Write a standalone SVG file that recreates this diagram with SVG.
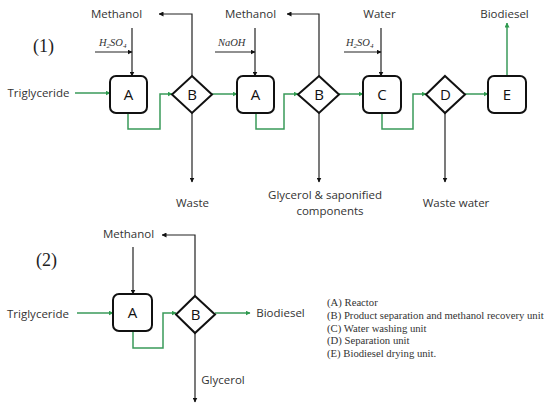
<svg xmlns="http://www.w3.org/2000/svg" width="550" height="409" viewBox="0 0 550 409">
<style>
.lbl{font-family:"Open Sans","Liberation Sans",sans-serif;font-size:11.5px;fill:#333;}
.unit{font-family:"Open Sans","Liberation Sans",sans-serif;font-size:15px;fill:#111;}
.num{font-family:"Liberation Serif",serif;font-size:18px;fill:#222;}
.chem{font-family:"Liberation Serif",serif;font-size:10.5px;font-style:italic;fill:#333;}
.leg{font-family:"Liberation Serif",serif;font-size:10.7px;fill:#333;}
.box{fill:#fff;stroke:#111;stroke-width:2;}
.k{fill:none;stroke:#222;stroke-width:1.2;marker-end:url(#ak);}
.g{fill:none;stroke:#3a9a5a;stroke-width:1.5;marker-end:url(#ag);}
</style>
<defs>
<marker id="ak" viewBox="0 0 10 10" refX="9" refY="5" markerWidth="5" markerHeight="5" orient="auto" markerUnits="userSpaceOnUse"><path d="M0,0L10,5L0,10z" fill="#111"/></marker>
<marker id="ag" viewBox="0 0 10 10" refX="9" refY="5" markerWidth="5" markerHeight="5" orient="auto" markerUnits="userSpaceOnUse"><path d="M0,0L10,5L0,10z" fill="#2e9a4e"/></marker>
</defs>

<text class="num" x="33" y="52">(1)</text>
<text class="num" x="36" y="266">(2)</text>

<g id="connectors">
<path class="g" d="M75,93H110"/>
<path class="k" d="M132,28V76"/>
<path class="k" d="M95,52H132"/>
<path class="g" d="M128,113V129H160V94H172"/>
<path class="k" d="M192,76V14H159"/>
<path class="k" d="M192,113V182"/>
<path class="g" d="M212,94H237"/>
<path class="k" d="M255,28V76"/>
<path class="k" d="M215,52H255"/>
<path class="g" d="M256,113V129H284V94H298"/>
<path class="k" d="M319,76V14H287"/>
<path class="k" d="M319,113V182"/>
<path class="g" d="M339,94H363"/>
<path class="k" d="M381,28V76"/>
<path class="k" d="M344,52H381"/>
<path class="g" d="M382,113V129H413V94H426"/>
<path class="k" d="M445,113V182"/>
<path class="g" d="M465,94H488"/>
<path class="g" d="M507,76V23"/>
<path class="g" d="M77,313H113"/>
<path class="k" d="M133,247V294"/>
<path class="g" d="M133,331V348H163V313H176"/>
<path class="k" d="M195,296V235H162"/>
<path class="k" d="M195,333V402"/>
<path class="g" d="M215,313H250"/>
</g>

<g id="A1"><rect class="box" x="110" y="76" width="37" height="37" rx="6"/><text class="unit" x="128.5" y="100" text-anchor="middle">A</text></g>
<g id="B1"><path class="box" d="M192,76L212,94.5L192,113L172,94.5Z"/><text class="unit" x="192" y="100" text-anchor="middle">B</text></g>
<g id="A2"><rect class="box" x="237" y="76" width="37" height="37" rx="6"/><text class="unit" x="255.5" y="100" text-anchor="middle">A</text></g>
<g id="B2"><path class="box" d="M319,76L339,94.5L319,113L298,94.5Z"/><text class="unit" x="319" y="100" text-anchor="middle">B</text></g>
<g id="C"><rect class="box" x="363" y="76" width="38" height="37" rx="6"/><text class="unit" x="382" y="100" text-anchor="middle">C</text></g>
<g id="D"><path class="box" d="M445,76L465,94.5L445,113L426,94.5Z"/><text class="unit" x="445.5" y="100" text-anchor="middle">D</text></g>
<g id="E"><rect class="box" x="488" y="76" width="38" height="37" rx="6"/><text class="unit" x="507" y="100" text-anchor="middle">E</text></g>

<g id="A3"><rect class="box" x="113" y="294" width="39" height="37" rx="6"/><text class="unit" x="132.5" y="318" text-anchor="middle">A</text></g>
<g id="B3"><path class="box" d="M195,296L215,314.5L195,333L176,314.5Z"/><text class="unit" x="195.5" y="320" text-anchor="middle">B</text></g>

<g id="labels">
<text class="lbl" x="116.5" y="18" text-anchor="middle">Methanol</text>
<text class="lbl" x="250.5" y="18" text-anchor="middle">Methanol</text>
<text class="lbl" x="379.5" y="18" text-anchor="middle">Water</text>
<text class="lbl" x="504.5" y="18" text-anchor="middle">Biodiesel</text>
<text class="lbl" x="38.5" y="97" text-anchor="middle">Triglyceride</text>
<text class="lbl" x="192.5" y="207" text-anchor="middle">Waste</text>
<text class="lbl" x="325" y="199" text-anchor="middle">Glycerol &amp; saponified</text>
<text class="lbl" x="330" y="215" text-anchor="middle">components</text>
<text class="lbl" x="456" y="207" text-anchor="middle">Waste water</text>
<text class="chem" x="99" y="46">H<tspan font-size="7" dy="2">2</tspan><tspan dy="-2">SO</tspan><tspan font-size="7" dy="2">4</tspan></text>
<text class="chem" x="218" y="46">NaOH</text>
<text class="chem" x="346" y="46">H<tspan font-size="7" dy="2">2</tspan><tspan dy="-2">SO</tspan><tspan font-size="7" dy="2">4</tspan></text>
<text class="lbl" x="128.5" y="238" text-anchor="middle">Methanol</text>
<text class="lbl" x="38" y="318" text-anchor="middle">Triglyceride</text>
<text class="lbl" x="280.5" y="317" text-anchor="middle">Biodiesel</text>
<text class="lbl" x="223" y="384" text-anchor="middle">Glycerol</text>
</g>

<g id="legend">
<text class="leg" x="327" y="306">(A) Reactor</text>
<text class="leg" x="327" y="319">(B) Product separation and methanol recovery unit</text>
<text class="leg" x="327" y="332">(C) Water washing unit</text>
<text class="leg" x="327" y="344">(D) Separation unit</text>
<text class="leg" x="327" y="357">(E) Biodiesel drying unit.</text>
</g>
</svg>
